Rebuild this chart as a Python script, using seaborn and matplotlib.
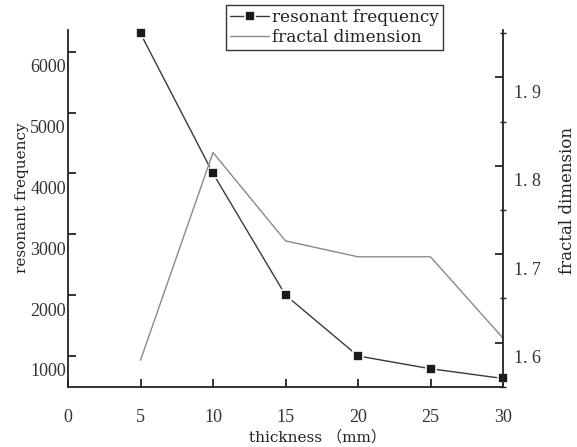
import matplotlib
matplotlib.use("Agg")
import matplotlib.pyplot as plt
import matplotlib.transforms as mtransforms
from matplotlib.ticker import FixedLocator, FuncFormatter, MultipleLocator
import seaborn as sns
import pandas as pd

thickness = [5, 10, 15, 20, 25, 30]
resonant_frequency = [6300, 4000, 2000, 1000, 790, 630]
fractal_dimension = [1.58, 1.815, 1.715, 1.697, 1.697, 1.605]
x_ticks = [0, 5, 10, 15, 20, 25, 30]
left_ticks = [1000, 2000, 3000, 4000, 5000, 6000]
right_ticks = [1.6, 1.7, 1.8, 1.9]

df = pd.DataFrame({"thickness": thickness,
                   "resonant frequency": resonant_frequency,
                   "fractal dimension": fractal_dimension})

sns.set_style("ticks")
plt.rcParams["font.family"] = ["Liberation Serif", "Noto Serif CJK SC", "Noto Sans CJK SC", "DejaVu Serif"]
label_family = ["DejaVu Serif", "Noto Sans CJK SC"]

fig = plt.figure(figsize=(5.77, 4.47), dpi=100)
ax = fig.add_axes([68 / 577, 1 - 387 / 447, 435 / 577, 357 / 447])
ax2 = ax.twinx()

sns.lineplot(data=df, x="thickness", y="resonant frequency", ax=ax,
             color="#3a3a3a", linewidth=1.0, marker="s", markersize=7,
             markerfacecolor="#1a1a1a", markeredgecolor="white", markeredgewidth=1.2,
             label="resonant frequency", legend=False, clip_on=False, zorder=5)
sns.lineplot(data=df, x="thickness", y="fractal dimension", ax=ax2,
             color="#8a8a8a", linewidth=1.0, label="fractal dimension",
             legend=False, clip_on=False)

ax.set_xlim(0, 30)
ax.set_ylim(490, 6357)
ax2.set_ylim(1.5497, 1.9536)

ax.xaxis.set_major_locator(FixedLocator(x_ticks))
ax.yaxis.set_major_locator(FixedLocator(left_ticks))
ax2.yaxis.set_major_locator(FixedLocator(right_ticks))
ax2.yaxis.set_minor_locator(MultipleLocator(0.05))
ax2.yaxis.set_major_formatter(FuncFormatter(lambda v, p: f"{v:.1f}".replace(".", ". ")))

for a in (ax, ax2):
    a.spines["top"].set_visible(False)
    for s in a.spines.values():
        s.set_linewidth(1.3)
        s.set_color("#222222")
ax.spines["right"].set_visible(False)
ax2.spines["left"].set_visible(False)
ax2.spines["bottom"].set_visible(False)

ax.tick_params(axis="x", direction="in", length=6, width=1.3, color="#222222",
               labelsize=13, labelcolor="#333333", pad=16)
ax.tick_params(axis="y", direction="in", length=6, width=1.3, color="#222222",
               labelsize=13, labelcolor="#333333", pad=1.5)
ax2.tick_params(axis="y", which="major", direction="in", length=6, width=1.3,
                color="#222222", labelsize=13, labelcolor="#333333", pad=8)
ax2.tick_params(axis="y", which="minor", direction="inout", length=4, width=1.0,
                color="#222222")

offset = mtransforms.ScaledTranslation(0, -14 / 100, fig.dpi_scale_trans)
for lab in ax.get_yticklabels() + ax2.get_yticklabels():
    lab.set_transform(lab.get_transform() + offset)

ax.set_xlabel("thickness （mm）", fontsize=11, color="#222222", family=label_family)
ax.xaxis.set_label_coords((318 - 68) / 435, -(437 - 387) / 357)
ax.xaxis.label.set_va("center")
ax.set_ylabel("resonant frequency", fontsize=11, color="#222222", family=label_family)
ax.yaxis.set_label_coords(-(68 - 22) / 435, (387 - 198) / 357)
ax.yaxis.label.set_va("center")
ax2.set_ylabel("fractal dimension", fontsize=12, color="#222222", family=label_family)
ax2.yaxis.set_label_coords((568 - 68) / 435, (387 - 201) / 357)
ax2.yaxis.label.set_va("center")

h1, l1 = ax.get_legend_handles_labels()
h2, l2 = ax2.get_legend_handles_labels()
leg = fig.legend(h1 + h2, l1 + l2, loc="upper left",
                 bbox_to_anchor=(226 / 577, 1 - 5 / 447),
                 prop={"family": "DejaVu Serif", "size": 12.2},
                 frameon=True, fancybox=False, framealpha=1, edgecolor="#333333",
                 borderpad=0.25, labelspacing=0.15, handlelength=2.3,
                 handletextpad=0.15, borderaxespad=0)
leg.get_frame().set_linewidth(1.0)
for t in leg.get_texts():
    t.set_color("#222222")

fig.savefig("out.png", dpi=100)
